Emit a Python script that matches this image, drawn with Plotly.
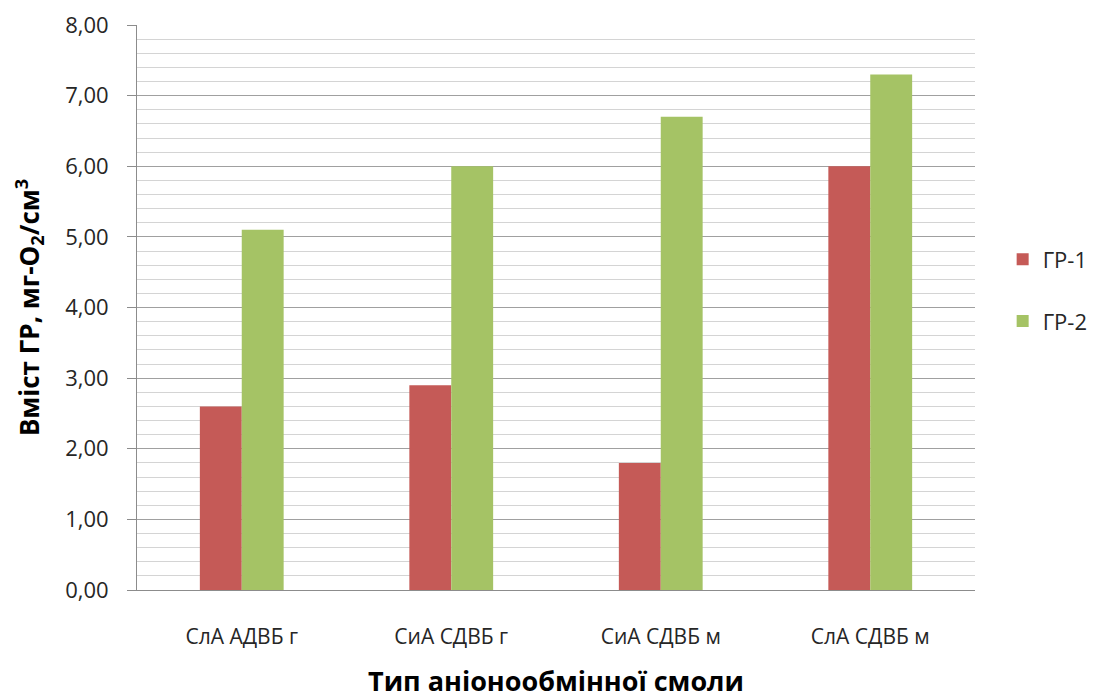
import plotly.graph_objects as go

categories = ["СлА АДВБ г", "СиА СДВБ г", "СиА СДВБ м", "СлА СДВБ м"]
gr1 = [2.6, 2.9, 1.8, 6.0]
gr2 = [5.1, 6.0, 6.7, 7.3]
y_ticks = [0, 1, 2, 3, 4, 5, 6, 7, 8]
y_tick_labels = ["0,00", "1,00", "2,00", "3,00", "4,00", "5,00", "6,00", "7,00", "8,00"]

FONT = "Open Sans, Lato, sans-serif"

fig = go.Figure()
fig.add_trace(go.Bar(name="ГР-1", x=categories, y=gr1, marker=dict(color="#C55A57", line=dict(width=0)),
                     legendgroup="g1"))
fig.add_trace(go.Bar(name="ГР-2", x=categories, y=gr2, marker=dict(color="#A5C365", line=dict(width=0)),
                     legendgroup="g2"))

fig.update_layout(
    width=1102, height=699,
    margin=dict(l=137, r=127, t=25, b=109, autoexpand=False),
    paper_bgcolor="white", plot_bgcolor="white",
    barmode="group", bargap=0.6, bargroupgap=0,
    font=dict(family=FONT, color="#262626"),
    showlegend=True,
    legend=dict(x=1.033, y=0.53, xanchor="left", yanchor="middle",
                font=dict(size=22, family=FONT, color="#262626"),
                tracegroupgap=30, traceorder="grouped", itemwidth=30),
    xaxis=dict(
        showgrid=False, showline=True, linecolor="#8C8C8C", linewidth=1,
        ticks="", tickfont=dict(size=21, family=FONT, color="#262626"),
        ticklabelstandoff=28,
        title=dict(text="<b>Тип аніонообмінної смоли</b>", font=dict(size=27, family=FONT, color="#000000"),
                   standoff=36),
    ),
    yaxis=dict(
        range=[0, 8], tickvals=y_ticks, ticktext=y_tick_labels,
        showgrid=True, gridcolor="#A0A0A0", gridwidth=1,
        minor=dict(dtick=0.2, showgrid=True, gridcolor="#D4D4D4", gridwidth=1),
        showline=True, linecolor="#8C8C8C", linewidth=1,
        ticks="outside", ticklen=9, tickcolor="#8C8C8C",
        tickfont=dict(size=22, family=FONT, color="#262626"),
        ticklabelstandoff=14,
        zeroline=False,
        title=dict(text="<b>Вміст ГР, мг-O<sub>2</sub>/см<sup>3</sup></b>",
                   font=dict(size=26, family=FONT, color="#000000"), standoff=18),
    ),
)

fig.write_html("out.html")
